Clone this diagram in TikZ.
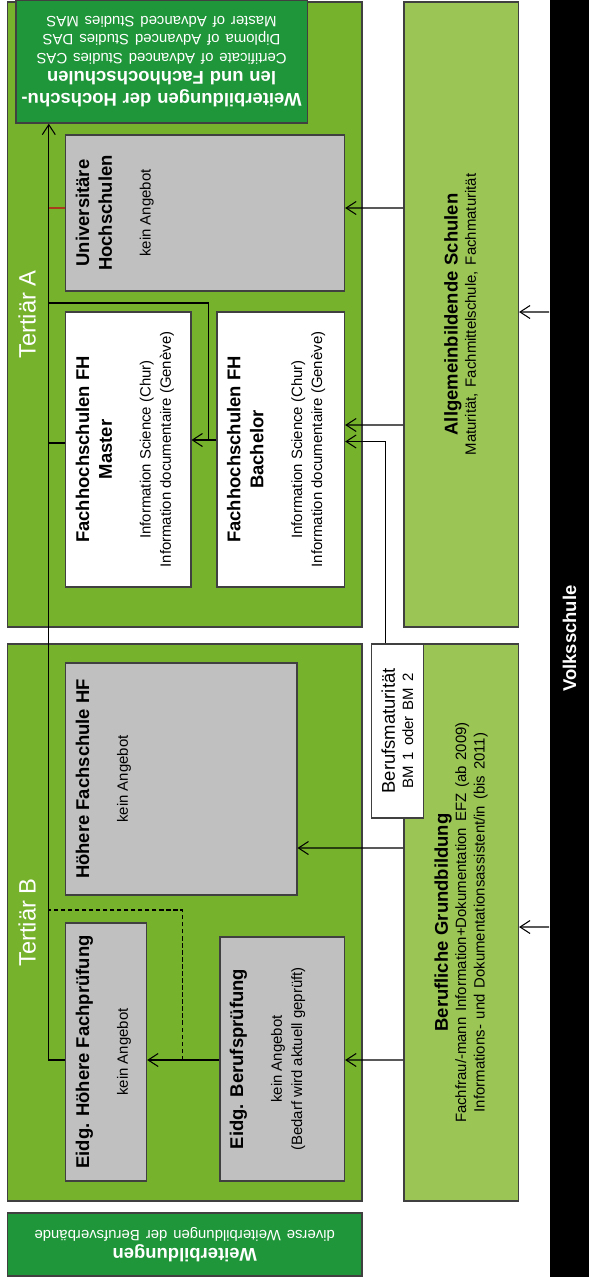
\documentclass[tikz,border=0pt]{standalone}
\usepackage{fontspec}
\setmainfont{Liberation Sans}
\usepackage{xcolor}
\usetikzlibrary{arrows.meta,calc}
\definecolor{tergreen}{RGB}{118,178,44}
\definecolor{schoolgreen}{RGB}{155,197,85}
\definecolor{wbgreen}{RGB}{32,150,58}
\definecolor{offergray}{RGB}{192,192,192}
\definecolor{edgegray}{RGB}{64,64,64}
\definecolor{linkred}{RGB}{170,60,30}
\newcommand{\topbox}[4]{\parbox[c][#2][t]{#1}{\centering\vspace*{#3}#4}}
\newcommand{\otitle}[1]{{\fontsize{10.5}{13}\selectfont\bfseries #1\par}}
\newcommand{\osub}[1]{{\fontsize{8.5}{11.5}\selectfont #1\par}}
\newcommand{\tlabel}[1]{{\fontsize{13.5}{16}\selectfont #1\par}}
\tikzset{
  Tarea/.style={draw=edgegray, line width=0.8pt, fill=tergreen, rotate=90,
                inner sep=0pt, text=white},
  Obox/.style={draw=edgegray, line width=0.8pt, fill=offergray, rotate=90,
               inner sep=0pt},
  Sbox/.style={draw=edgegray, line width=0.8pt, fill=schoolgreen, rotate=90,
               align=center, inner sep=0pt},
  Wbox/.style={draw=edgegray, line width=0.8pt, fill=wbgreen, rotate=180,
               align=center, inner sep=0pt, text=white},
  Narr/.style={-{Straight Barb[length=2mm,width=2.6mm]}, line width=0.6pt},
  Jline/.style={line width=0.6pt},
  Dline/.style={line width=0.6pt, dash pattern=on 2.5pt off 1.5pt},
  Rline/.style={line width=0.6pt, draw=linkred}
}
\begin{document}
\begin{tikzpicture}
  \useasboundingbox (0,0) rectangle (11.78,-25.54);

  % Tertiaerstufe
  \node[Tarea] (terA) at (3.693,-6.29)
    {\topbox{12.5cm}{7.086cm}{0.22cm}{\tlabel{Tertiär A}}};
  \node[Tarea] (terB) at (3.693,-18.45)
    {\topbox{11.14cm}{7.086cm}{0.22cm}{\tlabel{Tertiär B}}};

  % Weiterbildungen
  \node[Wbox, minimum width=5.83cm, minimum height=2.46cm, text width=5.6cm] (wbHS) at (3.231,-1.23)
    {{\fontsize{10.5}{12.5}\selectfont\bfseries Weiterbildungen der Hochschu-\\len und Fachhochschulen\par}
     {\fontsize{8.5}{10.5}\selectfont Certificate of Advanced Studies CAS\\Diploma of Advanced Studies DAS\\Master of Advanced Studies MAS\par}};
  \node[Wbox, minimum width=7.086cm, minimum height=1.26cm, text width=6.9cm] (wbBV) at (3.693,-24.89)
    {{\fontsize{10.5}{12}\selectfont\bfseries Weiterbildungen\par}
     {\fontsize{8.5}{10.5}\selectfont diverse Weiterbildungen der Berufsverbände\par}};

  % Angebote Tertiaer A
  \node[Obox] (uni) at (4.102,-4.26)
    {\topbox{3.12cm}{5.576cm}{0.2cm}{\otitle{Universitäre\\Hochschulen}\vspace{0.37cm}\osub{kein Angebot}}};
  \node[Obox, fill=white] (master) at (2.565,-8.99)
    {\topbox{5.5cm}{2.502cm}{0.2cm}{\otitle{Fachhochschulen FH\\Master}\vspace{0.37cm}%
     \osub{Information Science (Chur)\\Information documentaire (Genève)}}};
  \node[Obox, fill=white] (bachelor) at (5.616,-8.99)
    {\topbox{5.5cm}{2.548cm}{0.2cm}{\otitle{Fachhochschulen FH\\Bachelor}\vspace{0.37cm}%
     \osub{Information Science (Chur)\\Information documentaire (Genève)}}};

  % Angebote Tertiaer B
  \node[Obox] (hf) at (3.625,-15.58)
    {\topbox{4.64cm}{4.622cm}{0.2cm}{\otitle{Höhere Fachschule HF}\vspace{0.37cm}\osub{kein Angebot}}};
  \node[Obox] (hfp) at (2.122,-21.04)
    {\topbox{5.16cm}{1.616cm}{0.2cm}{\otitle{Eidg. Höhere Fachprüfung}\vspace{0.37cm}\osub{kein Angebot}}};
  \node[Obox] (bp) at (5.643,-21.18)
    {\topbox{4.88cm}{2.494cm}{0.2cm}{\otitle{Eidg. Berufsprüfung}\vspace{0.37cm}%
     \osub{kein Angebot\\(Bedarf wird aktuell geprüft)}}};

  % Sekundarstufe II
  \node[Sbox, minimum width=12.5cm, minimum height=2.292cm, text width=12cm] (allg) at (9.222,-6.29)
    {{\fontsize{10.5}{12}\selectfont\bfseries Allgemeinbildende Schulen\par}
     {\fontsize{8.5}{10.4}\selectfont Maturität, Fachmittelschule, Fachmaturität\par}};
  \node[Sbox, minimum width=11.14cm, minimum height=2.292cm, text width=10.8cm] (grund) at (9.222,-18.45)
    {{\fontsize{10.5}{12}\selectfont\bfseries Berufliche Grundbildung\par}
     {\fontsize{8.5}{10.4}\selectfont Fachfrau/-mann Information+Dokumentation EFZ (ab 2009)\\
      Informations- und Dokumentationsassistent/in (bis 2011)\par}};
  \node[Sbox, fill=white, minimum width=3.48cm, minimum height=1.05cm, text width=3.3cm] (bm) at (7.949,-14.62)
    {{\fontsize{10.5}{13.8}\selectfont Berufsmaturität\par}
     {\fontsize{8.5}{10.4}\selectfont BM 1 oder BM 2\par}};

  % Volksschule
  \node[rotate=90, fill=black, inner sep=0pt, minimum width=25.74cm, minimum height=0.8cm,
        text=white, font=\fontsize{10.5}{12}\selectfont\bfseries] (volk) at (11.39,-12.77) {Volksschule};

  % Uebertritte
  \draw[Narr] ([yshift=6.53cm]volk.north) -- ([yshift=0.05cm]allg.south);
  \draw[Narr] ([yshift=-5.77cm]volk.north) -- ([yshift=-0.09cm]grund.south);
  \draw[Narr] ([yshift=2.13cm]allg.north) -- ([yshift=0.10cm]uni.south);
  \draw[Narr] ([yshift=-2.21cm]allg.north) -- ([yshift=0.49cm]bachelor.south);
  \draw[Narr] ([xshift=-0.23cm]bm.east) |- ([yshift=0.16cm]bachelor.south);
  \draw[Narr] ([yshift=0.19cm]bachelor.north) -- ([yshift=0.19cm]master.south);
  \draw[Narr] ([yshift=1.49cm]grund.north) -- ([yshift=-1.38cm]hf.south);
  \draw[Narr] ([yshift=-2.75cm]grund.north) -- ([yshift=-0.02cm]bp.south);
  \draw[Narr] ([yshift=-0.02cm]bp.north) -- ([yshift=-0.16cm]hfp.south);

  % Weg zur Weiterbildung
  \coordinate (jU) at (0.976,-4.16);
  \coordinate (jS) at (0.976,-6.06);
  \coordinate (jB) at (4.17,-8.80);
  \coordinate (jM) at (0.976,-8.86);
  \coordinate (jD) at (0.976,-18.2);
  \coordinate (jP) at (3.644,-21.2);
  \draw[Narr] ([yshift=-0.16cm]hfp.north) -| ([xshift=-2.255cm]wbHS.north);
  \draw[Rline] (jU) -- (jU -| uni.north);
  \draw[Jline] (jB) |- (jS);
  \draw[Jline] (jM) -- (jM -| master.north);
  \draw[Dline] (jP) |- (jD);
\end{tikzpicture}
\end{document}
